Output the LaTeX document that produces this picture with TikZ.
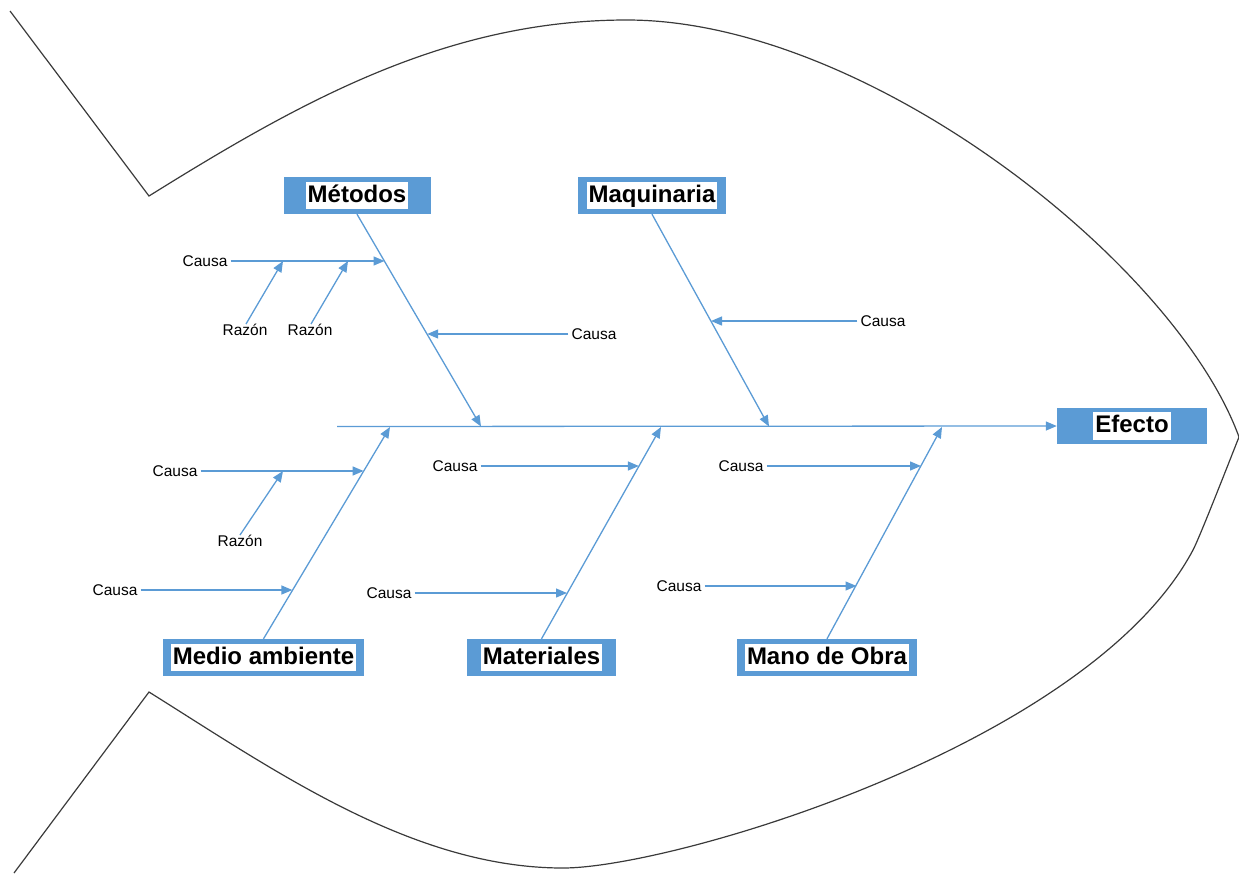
\documentclass[tikz,border=0pt]{standalone}
\usepackage{fontspec}
\setmainfont{Liberation Sans}
\usetikzlibrary{arrows.meta}
\definecolor{fishblue}{HTML}{5B9BD5}
\definecolor{outlinegray}{HTML}{3A3A3A}
\begin{document}
\begin{tikzpicture}[x=1pt,y=-1pt,
  bone/.style={draw=fishblue, line width=1.3pt},
  arr/.style={bone, -{Triangle[length=11pt,width=9pt]}},
  catbox/.style={fill=fishblue, minimum height=37pt, inner sep=0pt},
  cattext/.style={fill=white, font=\fontsize{24}{28}\selectfont\bfseries, text height=17.5pt, text depth=4pt, inner xsep=2pt, inner ysep=3pt},
  causa/.style={font=\fontsize{15.5}{18}\selectfont, inner sep=3pt},
  fishline/.style={draw=outlinegray, line width=1.2pt, line join=miter}]
\useasboundingbox (0,0) rectangle (1239,873);
\clip (0,0) rectangle (1239,873);
% fish outline
\draw[fishline] (10,11) -- (149,196)
  .. controls (302,100.6) and (447,20) .. (627,20)
  .. controls (867,20) and (1175.7,263.1) .. (1239,437);
\draw[fishline] (14,873) -- (149,692)
  .. controls (276,771.5) and (413,868) .. (563,868)
  .. controls (673,868) and (1089.8,744.3) .. (1193,550)
  .. controls (1200,536.8) and (1233.4,450.9) .. (1239,437);
% category boxes
\node[catbox, minimum width=147pt] (met) at (357,195.5) {};
\node[cattext] (metT) at (met) {Métodos};
\node[catbox, minimum width=148pt] (maq) at (652,195.5) {};
\node[cattext] (maqT) at (maq) {Maquinaria};
\node[catbox, minimum width=201pt] (med) at (263.5,657.5) {};
\node[cattext] (medT) at (med) {Medio ambiente};
\node[catbox, minimum width=149pt] (mat) at (541.5,657.5) {};
\node[cattext] (matT) at (mat) {Materiales};
\node[catbox, minimum width=180pt] (man) at (827,657.5) {};
\node[cattext] (manT) at (man) {Mano de Obra};
\node[catbox, minimum width=150pt, minimum height=36pt] (efe) at (1132,426) {};
\node[cattext] (efeT) at (efe) {Efecto};
% spine
\coordinate (spL) at (337,426.5);
\draw[arr] (spL) -- (efe.west);
% bone tips on spine
\coordinate (mtip) at (481,426.5);
\coordinate (qtip) at (769,426.5);
\coordinate (etip) at (390,427);
\coordinate (ttip) at (661,427);
\coordinate (otip) at (942,427);
\draw[arr] (met.south) -- (mtip);
\draw[arr] (maq.south) -- (qtip);
\draw[arr] (med.north) -- (etip);
\draw[arr] (mat.north) -- (ttip);
\draw[arr] (man.north) -- (otip);
% points on bones
\coordinate (m1) at (384.5,261);
\coordinate (m2) at (427.2,334);
\coordinate (q1) at (711,321);
\coordinate (e1) at (363.6,471);
\coordinate (e2) at (292.4,590);
\coordinate (t1) at (638.9,466);
\coordinate (t2) at (567,593);
\coordinate (o1) at (921,466);
\coordinate (o2) at (856.5,586);
% causes
\node[causa] (c1) at (205,261) {Causa};
\node[causa] (c2) at (594,334) {Causa};
\node[causa] (c3) at (883,321) {Causa};
\node[causa] (c4) at (175,471) {Causa};
\node[causa] (c5) at (115,590) {Causa};
\node[causa] (c6) at (455,466) {Causa};
\node[causa] (c7) at (389,593) {Causa};
\node[causa] (c8) at (741,466) {Causa};
\node[causa] (c9) at (679,586) {Causa};
\draw[arr] (c1.east) -- (m1);
\draw[arr] (c2.west) -- (m2);
\draw[arr] (c3.west) -- (q1);
\draw[arr] (c4.east) -- (e1);
\draw[arr] (c5.east) -- (e2);
\draw[arr] (c6.east) -- (t1);
\draw[arr] (c7.east) -- (t2);
\draw[arr] (c8.east) -- (o1);
\draw[arr] (c9.east) -- (o2);
% reasons
\coordinate (h1) at (283,261);
\coordinate (h2) at (348,261);
\coordinate (h3) at (283,471);
\node[causa] (r1) at (245,330) {Razón};
\node[causa] (r2) at (310,330) {Razón};
\node[causa] (r3) at (240,541) {Razón};
\draw[arr] ([xshift=1pt,yshift=-3pt]r1.north) -- (h1);
\draw[arr] ([xshift=1pt,yshift=-3pt]r2.north) -- (h2);
\draw[arr] ([xshift=0pt,yshift=-3pt]r3.north) -- (h3);
\end{tikzpicture}
\end{document}
